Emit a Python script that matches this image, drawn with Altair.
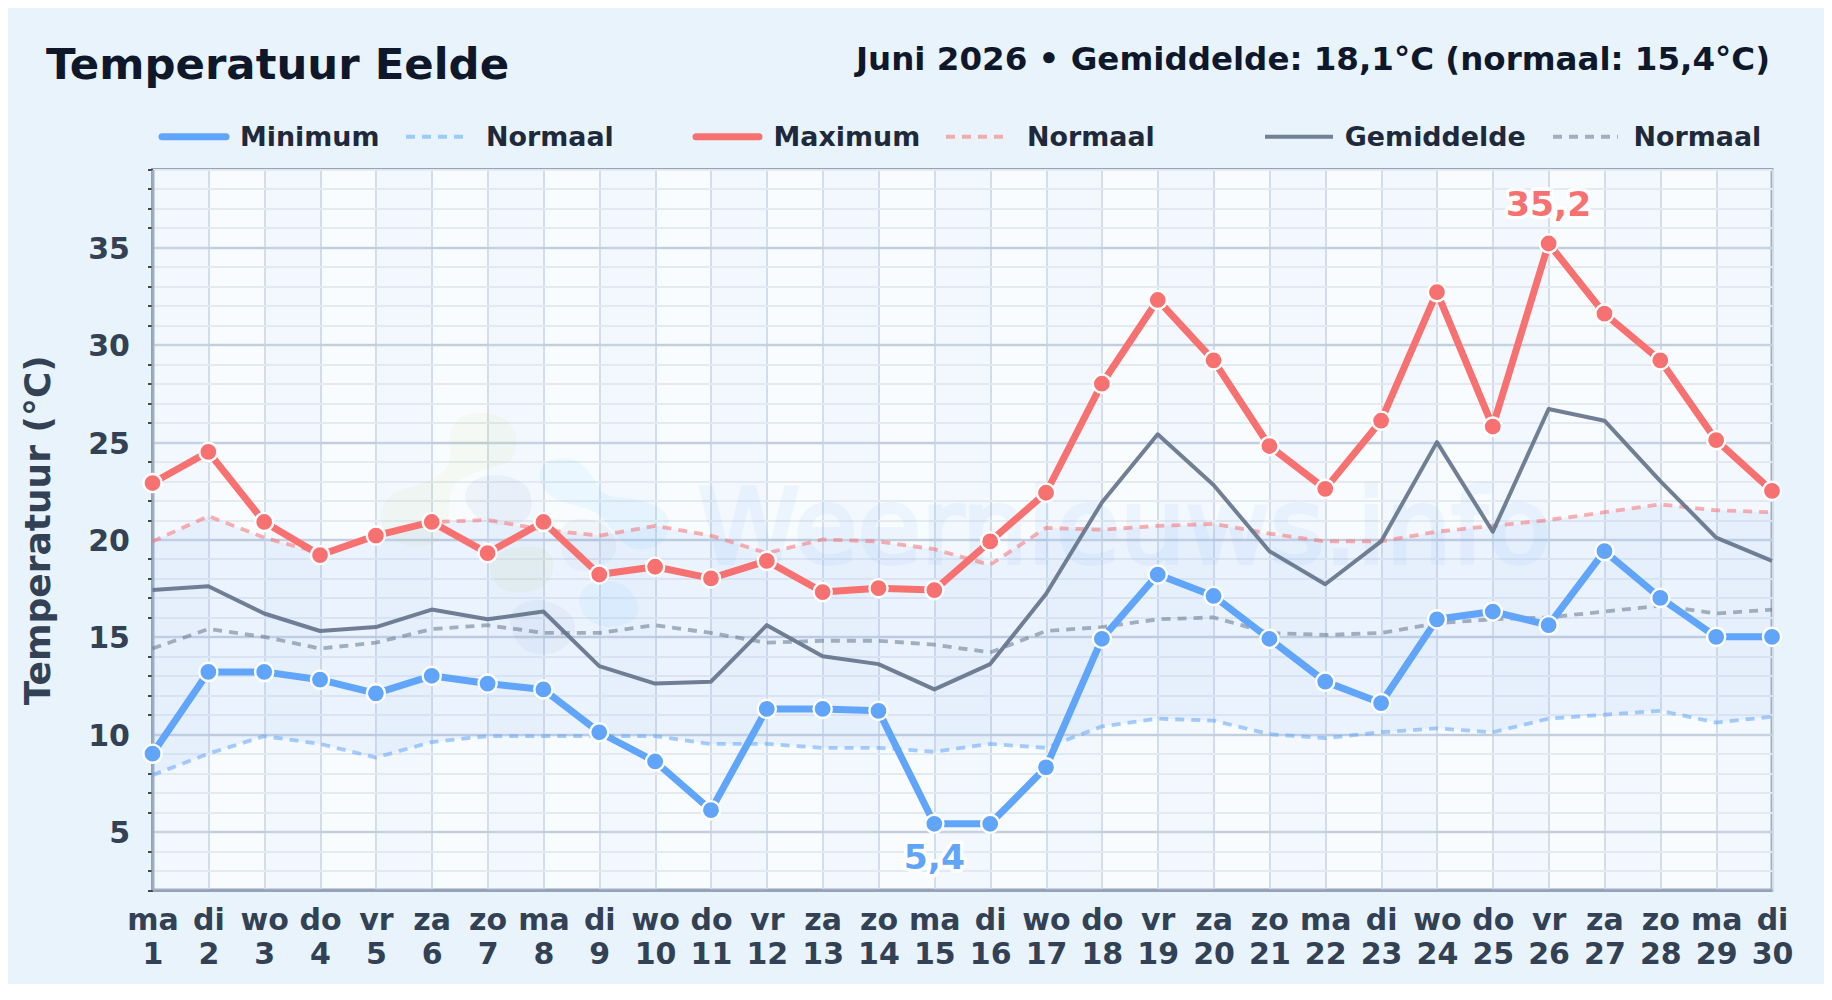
import altair as alt
import pandas as pd

weekdays = ["ma","di","wo","do","vr","za","zo"]*4 + ["ma","di"]
days = list(range(1, 31))
t_min = [9.0,13.2,13.2,12.8,12.1,13.0,12.6,12.3,10.1,8.6,6.1,11.3,11.3,11.2,5.4,5.4,8.3,14.9,18.2,17.1,14.9,12.7,11.6,15.9,16.3,15.6,19.4,17.0,15.0,15.0]
t_max = [22.9,24.5,20.9,19.2,20.2,20.9,19.3,20.9,18.2,18.6,18.0,18.9,17.3,17.5,17.4,19.9,22.4,28.0,32.3,29.2,24.8,22.6,26.1,32.7,25.8,35.2,31.6,29.2,25.1,22.5]
t_avg = [17.4,17.6,16.2,15.3,15.5,16.4,15.9,16.3,13.5,12.6,12.7,15.6,14.0,13.6,12.3,13.6,17.2,21.9,25.4,22.8,19.4,17.7,19.9,25.0,20.4,26.7,26.1,23.0,20.1,18.9]
n_min = [7.9,9.0,9.9,9.5,8.8,9.6,9.9,9.9,9.9,9.9,9.5,9.5,9.3,9.3,9.1,9.5,9.3,10.4,10.8,10.7,10.0,9.8,10.1,10.3,10.1,10.8,11.0,11.2,10.6,10.9]
n_max = [19.9,21.2,20.1,19.3,20.2,20.9,21.0,20.5,20.2,20.7,20.2,19.3,20.0,19.9,19.5,18.7,20.6,20.5,20.7,20.8,20.3,19.9,19.9,20.4,20.7,21.0,21.4,21.8,21.5,21.4]
n_avg = [14.4,15.4,15.0,14.4,14.7,15.4,15.6,15.2,15.2,15.6,15.2,14.7,14.8,14.8,14.6,14.2,15.3,15.5,15.9,16.0,15.2,15.1,15.2,15.7,15.9,16.0,16.3,16.6,16.2,16.4]
stripe_start = list(range(1, 30, 2))
stripe_end = [d + 1 for d in stripe_start]

FONT = "DejaVu Sans"
BLUE, RED, GREY = "#60a5fa", "#f87171", "#64748b"
BG = "#e8f3fc"
df = pd.DataFrame(dict(day=days, t_min=t_min, t_max=t_max, t_avg=t_avg, n_min=n_min, n_max=n_max, n_avg=n_avg))
one = pd.DataFrame({"a": [0]})

W, H = 1619.5, 720.5
L, T = 152.5, 169.5
xs = alt.Scale(domain=[1, 30], nice=False, zero=False)
ys = alt.Scale(domain=[2, 39], nice=False, zero=False)

xexpr = "[" + ",".join(f"'{w}'" for w in weekdays) + "]"
x_axis = alt.Axis(values=days, title=None, tickSize=0, labelFont=FONT, labelFontWeight="bold", labelFontSize=30,
                  labelColor="#334155", labelPadding=15, labelAngle=0, labelOverlap=False, labelBound=False, labelFlush=False,
                  labelExpr=f"[{xexpr}[datum.value-1], '' + datum.value]", labelLineHeight=34,
                  domainColor="#94a3b8", domainWidth=3, gridColor="#d3dce8", gridWidth=2)
y_axis = alt.Axis(values=list(range(2, 40)), title="Temperatuur (°C)", titleFont=FONT, titleFontWeight="bold", titleFontSize=36,
                  titleColor="#334155", titlePadding=30, labelFont=FONT, labelFontWeight="bold", labelFontSize=30,
                  labelColor="#334155", labelPadding=18, labelOverlap=False, labelFlush=False, labelOffset=2,
                  labelExpr="datum.value % 5 === 0 ? '' + datum.value : ''", tickSize=5, tickColor="#111111", tickWidth=1.5,
                  tickOpacity={"condition": {"test": "datum.value % 5 === 0", "value": 0}, "value": 1},
                  domainColor="#94a3b8", domainWidth=3,
                  gridColor={"condition": {"test": "datum.value % 5 === 0", "value": "#c3cedd"}, "value": "#e5eaf1"},
                  gridWidth={"condition": {"test": "datum.value % 5 === 0", "value": 2.5}, "value": 2})

X = alt.X("day:Q", scale=xs, axis=x_axis)
def Y(f):
    return alt.Y(f + ":Q", scale=ys, axis=y_axis)

stripes = alt.Chart(pd.DataFrame(dict(a=stripe_start, b=stripe_end))).mark_rect(color="#d8e8fa", opacity=0.18).encode(
    x=alt.X("a:Q", scale=xs, axis=x_axis), x2="b:Q")

# pale logo behind the data: outlines, in pixels around the anchor day 8 / 20 degrees
def blob(points):
    pts = [((a / 3 - 183.4) / 200, (b / 3 - 149.6) / 200) for a, b in points]
    n = len(pts)
    mid = lambda p, q: ((p[0] + q[0]) / 2, (p[1] + q[1]) / 2)
    s = mid(pts[-1], pts[0])
    path = f"M{s[0]:.4f} {s[1]:.4f}"
    for i in range(n):
        m = mid(pts[i], pts[(i + 1) % n])
        path += f"Q{pts[i][0]:.4f} {pts[i][1]:.4f} {m[0]:.4f} {m[1]:.4f}"
    return path + "Z"

green_a = [(265,130),(300,75),(380,65),(455,95),(475,170),(450,220),(380,235),(300,265),(270,300),(265,400),(230,465),(150,475),(75,435),(55,370),(90,310),(180,285),(255,250),(275,190)]
green_b = [(385,520),(420,480),(520,465),(580,490),(580,560),(540,600),(460,612),(400,585)]
pale_a = [(530,250),(570,205),(650,205),(700,260),(730,320),(830,325),(920,360),(930,420),(900,470),(820,485),(770,440),(720,370),(640,345),(560,320)]
pale_b = [(655,610),(700,570),(790,575),(840,640),(830,690),(760,715),(690,700),(660,660)]
dark_a = [(305,320),(340,265),(420,250),(500,280),(520,340),(500,395),(430,412),(350,390)]
dark_b = [(600,400),(680,380),(760,420),(775,490),(730,530),(650,550),(600,500)]
dark_c = [(440,690),(480,635),(560,625),(650,680),(640,760),(560,800),(480,780)]
logo_shapes = [(green_a, "#a3c93a", 0.06), (green_b, "#a3c93a", 0.07), (pale_a, "#38bdf8", 0.07),
               (pale_b, "#38bdf8", 0.07), (dark_a, "#1e4e8c", 0.05), (dark_b, "#1e4e8c", 0.04), (dark_c, "#1e4e8c", 0.05)]
anchor = pd.DataFrame(dict(day=[8], deg=[20]))
logo = [alt.Chart(anchor).mark_point(shape=blob(p), filled=True, size=160000, color=c, opacity=o, strokeWidth=0).encode(x=X, y=Y("deg"))
        for p, c, o in logo_shapes]
watermark = alt.Chart(pd.DataFrame(dict(day=[10.76], deg=[18.8]))).mark_text(
    text="Weernieuws.info", font=FONT, fontSize=103.5, fontWeight="normal", align="left", baseline="alphabetic",
    color="#60a5fa", stroke="#60a5fa", strokeWidth=4, opacity=0.08).encode(x=X, y=Y("deg"))

band = alt.Chart(df).mark_area(color="#8fbdf5", opacity=0.13).encode(
    x=X, y=Y("n_min"), y2="n_max:Q")

def dashed(f, c):
    return alt.Chart(df).mark_line(color=c, strokeWidth=3.8, strokeDash=[9, 7], opacity=0.55).encode(x=X, y=Y(f))
def solid(f, c, w, op=1.0):
    return alt.Chart(df).mark_line(color=c, strokeWidth=w, strokeJoin="round", opacity=op).encode(x=X, y=Y(f))
def dots(f, c):
    return alt.Chart(df).mark_point(filled=True, color=c, size=330, opacity=1, stroke="white", strokeWidth=2.4).encode(x=X, y=Y(f))

def callout(day, val, c, dy):
    d = pd.DataFrame(dict(day=[day], v=[val]))
    txt = f"{val:.1f}".replace(".", ",")
    kw = dict(text=txt, font=FONT, fontWeight="bold", fontSize=34.5, align="center", baseline="middle", dy=dy)
    return [alt.Chart(d).mark_text(color="white", stroke="white", strokeWidth=7, strokeJoin="round", **kw).encode(x=X, y=Y("v")),
            alt.Chart(d).mark_text(color=c, **kw).encode(x=X, y=Y("v"))]

def label(txt, x, y, size, color, align="left"):
    return alt.Chart(one).mark_text(text=txt, font=FONT, fontWeight="bold", fontSize=size, color=color, align=align,
                                    baseline="alphabetic").encode(x=alt.value(x - L), y=alt.value(y - T))
def sample(x1, x2, color, w, dash=None, op=1.0, cap="round"):
    kw = dict(strokeDash=dash) if dash else {}
    return alt.Chart(one).mark_rule(color=color, strokeWidth=w, opacity=op, strokeCap=cap, **kw).encode(
        x=alt.value(x1 - L), x2=alt.value(x2 - L), y=alt.value(136.7 - T))

LEG = "#1e293b"
texts = [
    label("Temperatuur Eelde", 46, 79, 43.4, "#0f172a"),
    label("Juni 2026 • Gemiddelde: 18,1°C (normaal: 15,4°C)", 1770, 70, 32.5, "#0f172a", "right"),
    sample(162, 226, BLUE, 7), label("Minimum", 240, 145.7, 26.9, LEG),
    sample(406, 464, BLUE, 4, [9, 7], 0.55, "butt"), label("Normaal", 486, 145.7, 26.9, LEG),
    sample(696, 759, RED, 7), label("Maximum", 773.5, 145.7, 26.9, LEG),
    sample(946, 1005, RED, 4, [9, 7], 0.55, "butt"), label("Normaal", 1027, 145.7, 26.9, LEG),
    sample(1265, 1333, GREY, 4, None, 0.9, "butt"), label("Gemiddelde", 1344.8, 145.7, 26.9, LEG),
    sample(1553, 1618, GREY, 4, [9, 7], 0.55, "butt"), label("Normaal", 1633.5, 145.7, 26.9, LEG),
]

chart = alt.layer(
    stripes, *logo, watermark, band,
    dashed("n_min", BLUE), dashed("n_max", RED), dashed("n_avg", GREY),
    solid("t_avg", GREY, 4, 0.92), solid("t_min", BLUE, 7), solid("t_max", RED, 7),
    dots("t_min", BLUE), dots("t_max", RED),
    *callout(26, 35.2, RED, -37), *callout(15, 5.4, BLUE, 35),
    *texts,
).properties(
    width=W, height=H, background=BG,
    padding={"left": L - 8, "top": T - 8, "right": 1824 - L - W, "bottom": 984 - T - H},
    autosize=alt.AutoSizeParams(type="none"),
).configure_view(fill="#f9fcff", stroke="#94a3b8", strokeWidth=3)

chart.save("out.html", embed_options={"renderer": "svg", "actions": False})
